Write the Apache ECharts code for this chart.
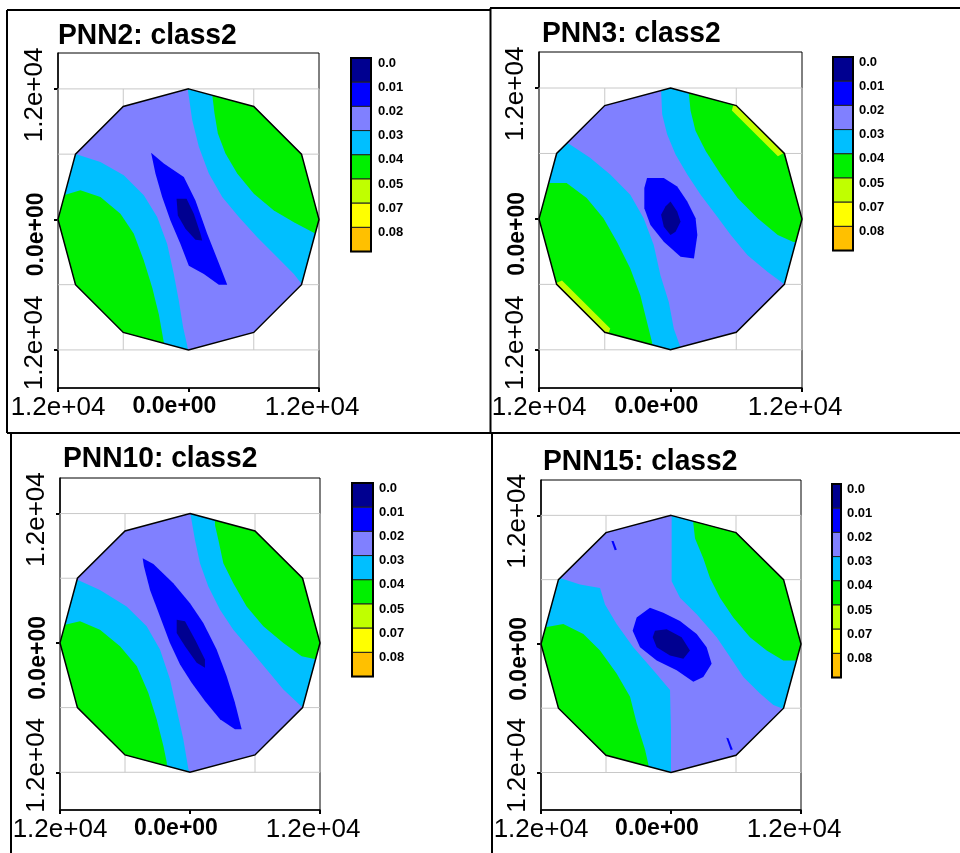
<!DOCTYPE html>
<html>
<head>
<meta charset="utf-8">
<title>PNN class2</title>
<script src="https://cdn.jsdelivr.net/npm/echarts@6/dist/echarts.min.js"></script>
<style>
html, body { margin: 0; padding: 0; background: #fff; }
#chart { width: 960px; height: 853px; }
</style>
</head>
<body>
<div id="chart"></div>
<script>
// colour scale levels (legend text) and axis ticks
var levelLabels = ['0.0', '0.01', '0.02', '0.03', '0.04', '0.05', '0.07', '0.08'];
var panelTitles = ['PNN2: class2', 'PNN3: class2', 'PNN10: class2', 'PNN15: class2'];
var tickValues = [-12000, 0, 12000];
var tickLabels = ['1.2e+04', '0.0e+00', '1.2e+04'];
var gridValues = [-12000, -6000, 0, 6000, 12000];

// sampled domain (12 sided), clockwise
var domain = [[0,12000],[6000,10390],[10390,6000],[12000,0],[10390,-6000],[6000,-10390],
  [0,-12000],[-6000,-10390],[-10390,-6000],[-12000,0],[-10390,6000],[-6000,10390]];

// ---- PNN2 band outlines ----
var pnn2CyanUR = [[-60,11910],[340,9140],[950,6680],[1870,4220],[3100,2060],[4630,220],[6320,-1630],[8160,-3480],[9690,-5020],[10460,-6000],[14000,-6800],[14000,14000],[-300,14000]];
var pnn2GreenUR = [[2210,11230],[2390,9750],[2700,7910],[3400,6060],[4480,4220],[6010,2370],[7850,830],[9690,-250],[11690,-1320],[14000,-1800],[14000,14000],[2100,14000]];
var pnn2CyanLL = [[-10310,6000],[-8100,5290],[-5950,4060],[-4110,2220],[-2880,220],[-1960,-2250],[-1350,-5020],[-890,-7480],[-490,-9940],[-30,-12000],[300,-14000],[-14000,-14000],[-14000,6200]];
var pnn2GreenLL = [[-11470,2220],[-9940,2680],[-8100,2060],[-6260,520],[-5030,-1320],[-4110,-3780],[-3340,-6250],[-2730,-8710],[-2270,-11320],[-2200,-14000],[-14000,-14000],[-14000,2200]];
var pnn2Blue = [[-3440,6120],[-2270,5140],[-430,3910],[640,1750],[1720,-1320],[2940,-4400],[3560,-6000],[2790,-6000],[1410,-5020],[30,-4250],[-740,-2250],[-1660,-90],[-2420,2060],[-3040,4220]];
var pnn2Navy = [[-1100,1910],[-180,1910],[490,520],[1100,-1320],[1260,-1940],[640,-1880],[-280,-860],[-980,370]];

// ---- PNN3 ----
var pnn3CyanUR = [[-860,11820],[-760,9600],[-310,7750],[460,5910],[1530,4060],[2750,2220],[4130,370],[5500,-1480],[7030,-3320],[8870,-4860],[10400,-6000],[14000,-6800],[14000,14000],[-1000,14000]];
var pnn3GreenUR = [[1680,11450],[1830,9910],[2290,8060],[3210,6220],[4590,4060],[6120,1910],[7950,60],[9790,-1480],[11160,-2090],[14000,-2500],[14000,14000],[1600,14000]];
var pnn3StripUR = [[5600,9940],[9800,5740],[10800,6300],[5900,11100]];
var pnn3CyanLL = [[-9170,6830],[-7340,5600],[-5500,4060],[-3670,2220],[-2450,60],[-1530,-2400],[-920,-5170],[-150,-7630],[310,-10090],[920,-11780],[1200,-14000],[-14000,-14000],[-14000,9500]];
var pnn3GreenLL = [[-11310,3290],[-9480,3290],[-7650,1910],[-6120,60],[-4890,-2090],[-3670,-4550],[-2750,-7020],[-2140,-9480],[-1680,-11320],[-1500,-14000],[-14000,-14000],[-14000,3400]];
var pnn3StripLL = [[-9900,-5640],[-5500,-10040],[-5900,-11200],[-10900,-6100]];
var pnn3Blue = [[-2140,3750],[-610,3750],[610,2980],[1530,1600],[2290,60],[2450,-1480],[2140,-3630],[920,-3480],[-610,-2090],[-1830,-550],[-2390,980],[-2390,2830]];
var pnn3Navy = [[0,1600],[610,680],[920,-250],[460,-1170],[0,-1480],[-610,-710],[-860,370],[-460,1140]];

// ---- PNN10 ----
var pnn10CyanUR = [[60,11850],[460,9540],[920,7380],[1690,5230],[2770,3080],[4000,1230],[5540,-620],[7080,-2460],[8620,-4310],[10400,-6000],[14000,-6800],[14000,14000],[-100,14000]];
var pnn10GreenUR = [[2310,10920],[2620,9540],[3080,7380],[4000,5540],[5230,3380],[6770,1540],[8620,0],[10310,-1230],[11690,-1540],[14000,-2000],[14000,14000],[2200,14000]];
var pnn10CyanLL = [[-10400,5850],[-8310,4920],[-5850,3380],[-4000,1540],[-2770,-620],[-1850,-3380],[-1230,-6150],[-620,-8920],[-150,-11690],[0,-12000],[200,-14000],[-14000,-14000],[-14000,6000]];
var pnn10GreenLL = [[-11540,1690],[-10150,2000],[-8310,1230],[-6460,-310],[-4920,-2150],[-3850,-4620],[-3080,-7080],[-2460,-9540],[-2150,-11080],[-2000,-14000],[-14000,-14000],[-14000,1700]];
var pnn10Blue = [[-4370,7850],[-3380,7320],[-1540,5540],[0,3690],[1230,1850],[2460,-620],[3380,-3080],[4150,-5540],[4770,-8000],[4150,-8000],[2770,-7080],[1380,-5380],[150,-3690],[-920,-2000],[-1850,0],[-2770,2460],[-3690,4920],[-4250,7080]];
var pnn10Navy = [[-1230,2150],[-460,2000],[460,310],[1380,-1540],[1380,-2310],[620,-1850],[-460,-310],[-1230,920]];

// ---- PNN15 ----
var pnn15CyanUR = [[60,11940],[60,5850],[830,4310],[2370,2770],[4220,620],[5450,-1230],[6680,-3080],[8220,-4620],[9450,-5690],[10430,-6090],[14000,-7000],[14000,14000],[60,14000]];
var pnn15GreenUR = [[2060,11230],[2220,9850],[2980,8000],[3600,6150],[4520,4310],[5750,2460],[7290,620],[8830,-620],[10370,-1540],[11600,-1540],[14000,-1800],[14000,14000],[2000,14000]];
var pnn15CyanLL = [[-10250,6150],[-8400,5540],[-6550,5230],[-6090,3690],[-5020,1850],[-3480,-310],[-1630,-2460],[-90,-4310],[0,-8000],[0,-12000],[0,-14000],[-14000,-14000],[-14000,6300]];
var pnn15GreenLL = [[-11630,1540],[-9940,1850],[-8090,920],[-6550,-620],[-5020,-2770],[-3780,-4920],[-3170,-7380],[-2400,-9850],[-2090,-11230],[-2000,-14000],[-14000,-14000],[-14000,1600]];
var pnn15Blue = [[-3170,2460],[-1940,3380],[-710,2920],[830,2150],[2370,920],[3290,-310],[3750,-1850],[2980,-3080],[2060,-3540],[520,-2460],[-1320,-1540],[-2860,-310],[-3540,1230]];
var pnn15BlueDotA = [[-5500,9600],[-5300,9600],[-5000,8800],[-5200,8750]];
var pnn15BlueDotB = [[5100,-8750],[5300,-8800],[5700,-9850],[5500,-9900]];
var pnn15Navy = [[-1480,1230],[-400,1380],[980,620],[1750,-620],[1140,-1380],[-90,-1080],[-1320,-310],[-1690,620]];

// colour for each level band
var palette = ['#000090', '#0000ff', '#8080ff', '#00bfff', '#00f000', '#c0ff00', '#ffff00', '#ffc000'];

// layers per panel, bottom first: [level, outline]
var panels = [
  [[2, domain], [3, pnn2CyanUR], [4, pnn2GreenUR], [3, pnn2CyanLL], [4, pnn2GreenLL], [1, pnn2Blue], [0, pnn2Navy]],
  [[2, domain], [3, pnn3CyanUR], [4, pnn3GreenUR], [5, pnn3StripUR], [3, pnn3CyanLL], [4, pnn3GreenLL], [5, pnn3StripLL], [1, pnn3Blue], [0, pnn3Navy]],
  [[2, domain], [3, pnn10CyanUR], [4, pnn10GreenUR], [3, pnn10CyanLL], [4, pnn10GreenLL], [1, pnn10Blue], [0, pnn10Navy]],
  [[2, domain], [3, pnn15CyanUR], [4, pnn15GreenUR], [3, pnn15CyanLL], [4, pnn15GreenLL], [1, pnn15Blue], [1, pnn15BlueDotA], [1, pnn15BlueDotB], [0, pnn15Navy]]
];

// page layout of each panel
var layout = [
  { grid: { left: 58, top: 53, width: 261, height: 335 }, title: [58, 36], legend: { x: 351, y: 58, w: 20, tx: 378 } },
  { grid: { left: 539, top: 52, width: 263, height: 336 }, title: [542, 34], legend: { x: 833, y: 57, w: 20, tx: 859 } },
  { grid: { left: 60, top: 478, width: 260, height: 332 }, title: [63, 459], legend: { x: 352, y: 483, w: 21, tx: 379 } },
  { grid: { left: 541, top: 480, width: 260, height: 330 }, title: [543, 462], legend: { x: 832, y: 484, w: 9, tx: 847 } }
];

// clip a polygon against the convex (clockwise) domain
function clipToDomain(poly) {
  var out = poly;
  var n = domain.length;
  for (var i = 0; i < n; i++) {
    var a = domain[i], b = domain[(i + 1) % n];
    var inside = function (p) {
      return (b[0] - a[0]) * (p[1] - a[1]) - (b[1] - a[1]) * (p[0] - a[0]) <= 0;
    };
    var cross = function (p, q) {
      var dx = q[0] - p[0], dy = q[1] - p[1];
      var ex = b[0] - a[0], ey = b[1] - a[1];
      var t = (ex * (a[1] - p[1]) - ey * (a[0] - p[0])) / (ex * dy - ey * dx);
      return [p[0] + t * dx, p[1] + t * dy];
    };
    var input = out;
    out = [];
    for (var j = 0; j < input.length; j++) {
      var cur = input[j], prev = input[(j + input.length - 1) % input.length];
      if (inside(cur)) {
        if (!inside(prev)) out.push(cross(prev, cur));
        out.push(cur);
      } else if (inside(prev)) {
        out.push(cross(prev, cur));
      }
    }
    if (!out.length) break;
  }
  return out;
}

// labels are padded like the original's sign-column formatting
function axisLabelText(v) {
  var k = tickValues.indexOf(Math.round(v));
  if (k < 0) return '';
  return '{t' + k + '|' + tickLabels[k] + '}';
}
var labelFont = { fontFamily: 'Liberation Sans', fontSize: 26, color: '#000' };
var zeroFont = { fontFamily: 'Liberation Sans', fontSize: 23, fontWeight: 'bold', color: '#000' };
var xRich = {
  t0: Object.assign({}, labelFont),
  t1: Object.assign({ padding: [0, 28, 0, 0] }, zeroFont),
  t2: Object.assign({ padding: [0, 14, 0, 0] }, labelFont)
};
var yRich = {
  t0: Object.assign({ padding: [0, 0, 0, 14] }, labelFont),
  t1: Object.assign({ padding: [0, 30, 0, 0] }, zeroFont),
  t2: Object.assign({ padding: [0, 12, 0, 0] }, labelFont)
};

var grids = [], xAxes = [], yAxes = [], series = [], graphics = [];

layout.forEach(function (L, i) {
  grids.push({
    left: L.grid.left, top: L.grid.top, width: L.grid.width, height: L.grid.height,
    show: true, borderColor: '#000', borderWidth: 1, backgroundColor: 'transparent'
  });
  var common = {
    gridIndex: i, type: 'value',
    axisLine: { onZero: false, lineStyle: { color: '#000', width: 1.5 } },
    axisTick: { customValues: tickValues, length: 4, lineStyle: { color: '#000', width: 2 } },
    splitLine: { show: false }
  };
  xAxes.push(Object.assign({}, common, {
    min: -12000, max: 12000,
    axisLabel: { customValues: tickValues, formatter: axisLabelText, margin: 7, rich: xRich }
  }));
  yAxes.push(Object.assign({}, common, {
    min: -15500, max: 15300,
    axisLabel: { customValues: tickValues, formatter: axisLabelText, margin: 10, rotate: 90, rich: yRich }
  }));

  // light grid inside the sampled square
  series.push({
    type: 'custom', xAxisIndex: i, yAxisIndex: i, z: 1, silent: true, animation: false, clip: false,
    data: gridValues.map(function (v) { return [v, v]; }),
    renderItem: function (params, api) {
      var v = gridValues[params.dataIndex];
      var lo = gridValues[0], hi = gridValues[gridValues.length - 1];
      var p1 = api.coord([v, lo]), p2 = api.coord([v, hi]);
      var q1 = api.coord([lo, v]), q2 = api.coord([hi, v]);
      var st = { stroke: '#c8c8c8', lineWidth: 1 };
      return {
        type: 'group', children: [
          { type: 'line', shape: { x1: p1[0], y1: p1[1], x2: p2[0], y2: p2[1] }, style: st },
          { type: 'line', shape: { x1: q1[0], y1: q1[1], x2: q2[0], y2: q2[1] }, style: st }
        ]
      };
    }
  });

  // filled contour bands
  var layers = panels[i];
  series.push({
    type: 'custom', xAxisIndex: i, yAxisIndex: i, z: 2, silent: true, animation: false, clip: false,
    data: layers.map(function () { return [0, 0]; }),
    renderItem: function (params, api) {
      var layer = layers[params.dataIndex];
      var pts = clipToDomain(layer[1]).map(function (p) { return api.coord(p); });
      return { type: 'polygon', shape: { points: pts }, style: { fill: palette[layer[0]], stroke: null } };
    }
  });

  // domain outline
  series.push({
    type: 'custom', xAxisIndex: i, yAxisIndex: i, z: 3, silent: true, animation: false, clip: false,
    data: [[0, 0]],
    renderItem: function (params, api) {
      var pts = domain.map(function (p) { return api.coord(p); });
      return { type: 'polygon', shape: { points: pts }, style: { fill: null, stroke: '#000', lineWidth: 1.5 } };
    }
  });

  // title
  graphics.push({
    type: 'text', x: L.title[0], y: L.title[1], scaleX: 0.94,
    style: { text: panelTitles[i], x: 0, y: 0, verticalAlign: 'middle', fill: '#000', font: 'bold 30px "Liberation Sans"' }
  });

  // colour scale
  var g = L.legend, boxH = 24.2;
  levelLabels.forEach(function (lab, k) {
    graphics.push({
      type: 'rect', shape: { x: g.x, y: g.y + k * boxH, width: g.w, height: boxH },
      style: { fill: palette[k], stroke: '#222', lineWidth: 1 }
    });
    graphics.push({
      type: 'text', x: g.tx, y: g.y + k * boxH + 5,
      style: { text: lab, verticalAlign: 'middle', fill: '#000', font: 'bold 13px "Liberation Sans"' }
    });
  });
  graphics.push({
    type: 'rect', shape: { x: g.x, y: g.y, width: g.w, height: boxH * 8 },
    style: { fill: null, stroke: '#000', lineWidth: 2 }
  });
});

// panel frames
var frameLines = [[7, 10, 490, 10], [7, 10, 7, 433], [490.5, 8, 490.5, 433], [490, 8, 960, 8],
  [7, 433, 960, 433], [11, 433, 11, 853], [492, 433, 492, 853]];
frameLines.forEach(function (f) {
  graphics.push({ type: 'line', shape: { x1: f[0], y1: f[1], x2: f[2], y2: f[3] }, style: { stroke: '#000', lineWidth: 2 } });
});

var chart = echarts.init(document.getElementById('chart'));
chart.setOption({
  animation: false,
  backgroundColor: '#fff',
  grid: grids,
  xAxis: xAxes,
  yAxis: yAxes,
  series: series,
  graphic: graphics
});
</script>
</body>
</html>
